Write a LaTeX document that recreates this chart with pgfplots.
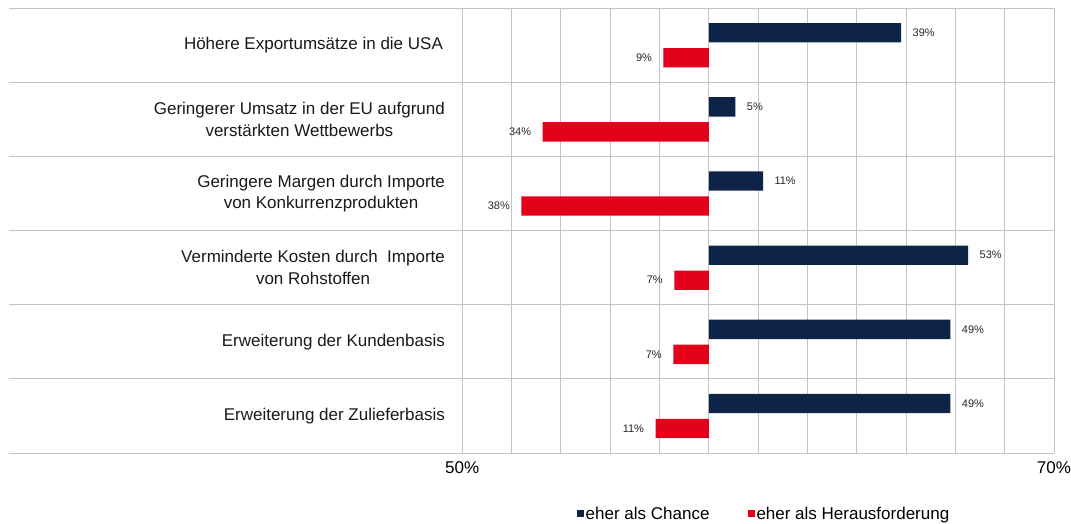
\documentclass[border=0pt]{standalone}
\usepackage{fontspec}
\setmainfont{Liberation Sans}
\usepackage{pgfplots}
\pgfplotsset{compat=1.18}

\definecolor{chance}{HTML}{0D2347}
\definecolor{herausf}{HTML}{E2001A}
\definecolor{gridgray}{HTML}{C4C4C4}

\newcommand{\lbl}{\fontsize{17bp}{21.5bp}\selectfont}
\newcommand{\val}{\fontsize{11bp}{13bp}\selectfont}

\begin{document}
\begin{tikzpicture}
\begin{axis}[
  name=ax,
  scale only axis,
  width=1045bp, height=445bp,
  xbar, bar shift=0pt, bar width=0.26,
  xmin=-141.9, xmax=70,
  ymin=-0.5, ymax=5.5,
  y dir=reverse,
  axis line style={draw=none},
  major tick length=0pt,
  xtick={-50,-40,...,70},
  xticklabels={50\%,,,,,,,,,,,,70\%},
  ytick={-0.5,0.5,...,5.5},
  yticklabels={},
  xmajorgrids, ymajorgrids,
  grid style={gridgray, line width=1bp},
  xticklabel style={font=\lbl, yshift=-5bp},
  /pgf/number format/assume math mode=true,
  font=\lbl,
  clip=false,
  point meta=explicit symbolic,
  nodes near coords,
  legend columns=2,
  legend style={draw=none, fill=none, font=\lbl,
    at={(0.7225,-0.137)}, anchor=center,
    /tikz/every even column/.append style={column sep=36bp}},
  legend image code/.code={\fill[#1,draw=none] (0bp,-3.2bp) rectangle (7bp,3.8bp);},
]

% eher als Chance
\addplot[fill=chance, draw=none,
  every node near coord/.append style={font=\val, anchor=west, xshift=8bp, text=black!85}]
  coordinates {
  (39,-0.167) [39\%]
  (5.4,0.833) [5\%]
  (11,1.833) [11\%]
  (52.6,2.833) [53\%]
  (49,3.833) [49\%]
  (49,4.833) [49\%]
};
\addlegendentry{eher als Chance}

% eher als Herausforderung
\addplot[fill=herausf, draw=none,
  every node near coord/.append style={font=\val, anchor=east, xshift=-8bp, text=black!85}]
  coordinates {
  (-9.2,0.170) [9\%]
  (-33.7,1.170) [34\%]
  (-38,2.170) [38\%]
  (-7,3.170) [7\%]
  (-7.2,4.170) [7\%]
  (-10.8,5.170) [11\%]
};
\addlegendentry{eher als Herausforderung}

\node[anchor=east, align=center, text=black!90] at (axis cs:-53.2,0) {Höhere Exportumsätze in die USA};
\node[anchor=east, align=center, text=black!90] at (axis cs:-52.8,1) {Geringerer Umsatz in der EU aufgrund\\verstärkten Wettbewerbs};
\node[anchor=east, align=center, text=black!90] at (axis cs:-52.8,2) {Geringere Margen durch Importe\\von Konkurrenzprodukten};
\node[anchor=east, align=center, text=black!90] at (axis cs:-52.8,3) {Verminderte Kosten durch\ \ Importe\\von Rohstoffen};
\node[anchor=east, align=center, text=black!90] at (axis cs:-52.8,4) {Erweiterung der Kundenbasis};
\node[anchor=east, align=center, text=black!90] at (axis cs:-52.8,5) {Erweiterung der Zulieferbasis};
\end{axis}
\pgfresetboundingbox
\path (ax.south west) ++(-9bp,-70bp) rectangle ([shift={(17bp,8bp)}]ax.north east);
\end{tikzpicture}
\end{document}
